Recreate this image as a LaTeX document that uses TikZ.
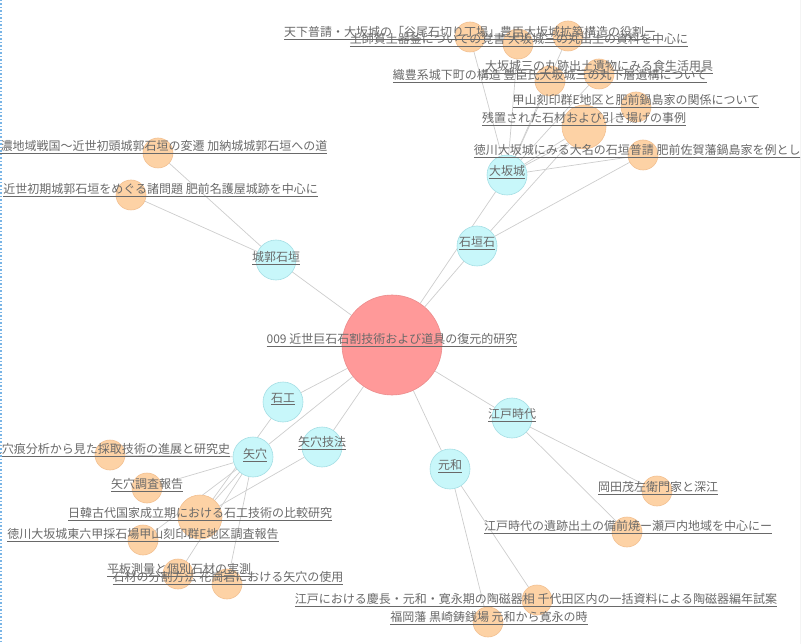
\documentclass[tikz,border=0pt]{standalone}
\usepackage{fontspec}
\setmainfont{Noto Sans CJK JP}
\usetikzlibrary{backgrounds}
\definecolor{kwfill}{RGB}{200,247,250}
\definecolor{kwline}{RGB}{165,222,228}
\definecolor{docfill}{RGB}{253,210,165}
\definecolor{docline}{RGB}{242,192,145}
\definecolor{rootfill}{RGB}{255,153,153}
\definecolor{rootline}{RGB}{235,140,140}
\definecolor{txt}{RGB}{105,105,105}
\definecolor{edgec}{RGB}{205,205,205}
\definecolor{leftb}{RGB}{120,180,230}
\definecolor{rightb}{RGB}{170,170,170}
\newcommand\lk[1]{\underline{#1}}
\begin{document}
\begin{tikzpicture}[x=1pt,y=-1pt,
  kw/.style={circle,fill=kwfill,draw=kwline,line width=0.6pt,minimum size=40pt,inner sep=0pt},
  doc/.style={circle,fill=docfill,draw=docline,line width=0.6pt,minimum size=30pt,inner sep=0pt},
  bigdoc/.style={doc,minimum size=44pt},
  root/.style={circle,fill=rootfill,draw=rootline,line width=0.6pt,minimum size=100pt,inner sep=0pt},
  lbl/.style={text=txt,font=\fontsize{12}{14}\selectfont,inner sep=0pt},
  edge/.style={draw=edgec,line width=0.7pt}]
\useasboundingbox (0,0) rectangle (803,644);
\clip (0,0) rectangle (800,644);
% root and keywords
\node[root] (c) at (392,345) {};
\node[kw] (k1) at (276,260) {};
\node[kw] (k2) at (477,246) {};
\node[kw] (k3) at (507,175) {};
\node[kw] (k4) at (283,402) {};
\node[kw] (k5) at (253,457) {};
\node[kw] (k6) at (322,447) {};
\node[kw] (k7) at (512,418) {};
\node[kw] (k8) at (450,469) {};
% documents
\node[doc] (d1) at (158,153) {};
\node[doc] (d2) at (131,195) {};
\node[doc] (d3) at (470,37) {};
\node[doc] (d4) at (518,44) {};
\node[doc] (d5) at (568,36) {};
\node[doc] (d6) at (550,81) {};
\node[doc] (d7) at (599,74) {};
\node[doc] (d8) at (636,107) {};
\node[bigdoc] (d9) at (584,127) {};
\node[doc] (d10) at (643,155) {};
\node[doc] (d11) at (110,455) {};
\node[doc] (d12) at (147,488) {};
\node[bigdoc] (d13) at (200,517) {};
\node[doc] (d14) at (143,540) {};
\node[doc] (d15) at (178,574) {};
\node[doc] (d16) at (227,584) {};
\node[doc] (d17) at (657,491) {};
\node[doc] (d18) at (627,532) {};
\node[doc] (d19) at (537,600) {};
\node[doc] (d20) at (488,622) {};
% edges
\begin{scope}[on background layer]
\foreach \k in {k1,k2,k3,k4,k5,k6,k7,k8} \draw[edge] (c) -- (\k);
\foreach \d in {d1,d2} \draw[edge] (k1) -- (\d);
\foreach \d in {d3,d4,d5,d6,d7,d8,d9,d10} \draw[edge] (k3) -- (\d);
\foreach \d in {d9,d10} \draw[edge] (k2) -- (\d);
\foreach \d in {d11,d12,d13,d14,d15,d16} \draw[edge] (k5) -- (\d);
\draw[edge] (k4) -- (d13);
\draw[edge] (k6) -- (d13);
\foreach \d in {d17,d18} \draw[edge] (k7) -- (\d);
\foreach \d in {d19,d20} \draw[edge] (k8) -- (\d);
\end{scope}
% labels
\node[lbl] (lc) at (392,340) {\lk{009 近世巨石石割技術および道具の復元的研究}};
\node[lbl] (l1) at (276,258) {\lk{城郭石垣}};
\node[lbl] (l2) at (477,243) {\lk{石垣石}};
\node[lbl] (l3) at (507,172) {\lk{大坂城}};
\node[lbl] (l4) at (283,399) {\lk{石工}};
\node[lbl] (l5) at (255,455) {\lk{矢穴}};
\node[lbl] (l6) at (322,443) {\lk{矢穴技法}};
\node[lbl] (l7) at (512,415) {\lk{江戸時代}};
\node[lbl] (l8) at (450,466) {\lk{元和}};
\node[lbl] (m1) at (158,147) {\lk{美濃地域戦国～近世初頭城郭石垣の変遷 加納城城郭石垣への道}};
\node[lbl,anchor=east] (m2) at (318,190) {\lk{近世初期城郭石垣をめぐる諸問題 肥前名護屋城跡を中心に}};
\node[lbl] (m3) at (470,33) {\lk{天下普請・大坂城の「谷尾石切り丁場」豊臣大坂城拡築構造の役割ー}};
\node[lbl] (m4) at (519,40) {\lk{土師質土器釜についての覚書 大坂城三の丸出土の資料を中心に}};
\node[lbl] (m6) at (550,76) {\lk{織豊系城下町の構造 豊臣氏大坂城三の丸下層遺構について}};
\node[lbl] (m7) at (599,67) {\lk{大坂城三の丸跡出土遺物にみる食生活用具}};
\node[lbl] (m8) at (636,101) {\lk{甲山刻印群E地区と肥前鍋島家の関係について}};
\node[lbl] (m9) at (584,119) {\lk{残置された石材および引き揚げの事例}};
\node[lbl] (m10) at (643,151) {\lk{徳川大坂城にみる大名の石垣普請 肥前佐賀藩鍋島家を例として}};
\node[lbl] (m11) at (110,450) {\lk{矢穴痕分析から見た採取技術の進展と研究史}};
\node[lbl] (m12) at (147,485) {\lk{矢穴調査報告}};
\node[lbl] (m13) at (200,514) {\lk{日韓古代国家成立期における石工技術の比較研究}};
\node[lbl] (m14) at (143,535) {\lk{徳川大坂城東六甲採石場甲山刻印群E地区調査報告}};
\node[lbl] (m15) at (179,570) {\lk{平板測量と個別石材の実測}};
\node[lbl] (m16) at (228,578) {\lk{石材の分割方法 花崗岩における矢穴の使用}};
\node[lbl] (m17) at (658,488) {\lk{岡田茂左衛門家と深江}};
\node[lbl] (m18) at (628,527) {\lk{江戸時代の遺跡出土の備前焼ー瀬戸内地域を中心にー}};
\node[lbl] (m19) at (536,600) {\lk{江戸における慶長・元和・寛永期の陶磁器相 千代田区内の一括資料による陶磁器編年試案}};
\node[lbl] (m20) at (489,618) {\lk{福岡藩 黒崎鋳銭場 元和から寛永の時}};
% frame edges
\draw[leftb,line width=1.5pt,dotted] (1,0) -- (1,644);
\draw[rightb,line width=1pt] (800,0) -- (800,644);
\end{tikzpicture}
\end{document}
